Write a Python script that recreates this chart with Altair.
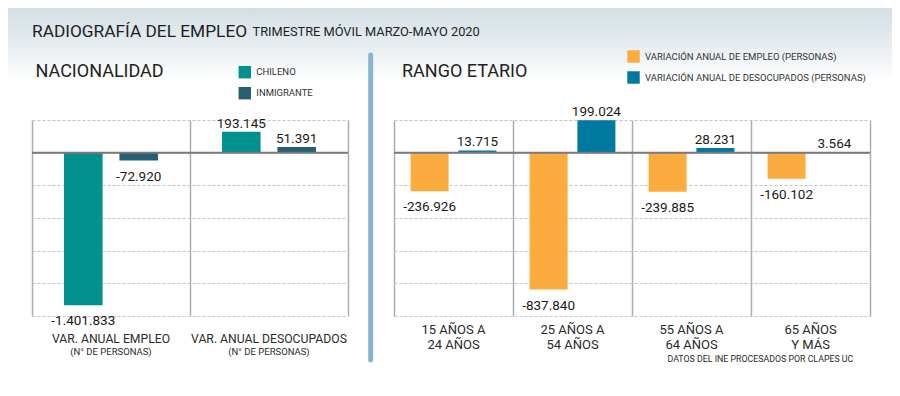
import altair as alt
import pandas as pd

# ---------------- data ----------------
TITLE = "RADIOGRAFÍA DEL EMPLEO"
SUBTITLE = "TRIMESTRE MÓVIL MARZO-MAYO 2020"
LEFT_TITLE = "NACIONALIDAD"
RIGHT_TITLE = "RANGO ETARIO"
SOURCE = "DATOS DEL INE PROCESADOS POR CLAPES UC"

nat_groups = ["VAR. ANUAL EMPLEO", "VAR. ANUAL DESOCUPADOS"]
nat_sub = ["(N° DE PERSONAS)", "(N° DE PERSONAS)"]
nat_series = ["CHILENO", "INMIGRANTE"]
chileno = [-1401833, 193145]
inmigrante = [-72920, 51391]
nat_colors = ["#00918e", "#245f73"]
nat_ticks = [-1500000, -1200000, -900000, -600000, -300000, 0, 300000]

age_groups = ["15-24", "25-54", "55-64", "65+"]
age_line1 = ["15 AÑOS A", "25 AÑOS A", "55 AÑOS A", "65 AÑOS"]
age_line2 = ["24 AÑOS", "54 AÑOS", "64 AÑOS", "Y MÁS"]
age_series = ["VARIACIÓN ANUAL DE EMPLEO (PERSONAS)",
              "VARIACIÓN ANUAL DE DESOCUPADOS (PERSONAS)"]
empleo = [-236926, -837840, -239885, -160102]
desocupados = [13715, 199024, 28231, 3564]
age_colors = ["#fcab3e", "#00789f"]
age_ticks = [-1000000, -800000, -600000, -400000, -200000, 0, 200000]

FONT = "Roboto"


def fmt(v):
    return f"{v:,}".replace(",", ".")


def long_df(groups, series, s1, s2):
    rows = []
    for g, a, b in zip(groups, s1, s2):
        rows.append({"group": g, "series": series[0], "value": a, "label": fmt(a)})
        rows.append({"group": g, "series": series[1], "value": b, "label": fmt(b)})
    return pd.DataFrame(rows)


def one():
    return pd.DataFrame({"k": [0]})


def panel(df, gdf, groups, series, colors, domain, ticks, W, H,
          pin, pout, legend_xy, line1_y, line2_y, line1_size, line2_size):
    xs = alt.X("group:N",
               scale=alt.Scale(domain=groups, paddingInner=0, paddingOuter=0),
               axis=alt.Axis(grid=True, tickBand="extent", gridColor="#adadad",
                             gridWidth=1.5, gridDash=[], labels=False, ticks=False,
                             domain=False, title=None))
    xo = alt.XOffset("series:N",
                     scale=alt.Scale(domain=series, paddingInner=pin, paddingOuter=pout))
    ys = alt.Y("value:Q", scale=alt.Scale(domain=domain, nice=False, zero=True),
               axis=alt.Axis(values=ticks, tickCount=len(ticks) * 2, grid=True,
                             gridDash=[3, 2], gridColor="#c4c4c4",
                             gridWidth=1, labels=False, ticks=False, domain=False,
                             title=None))
    bars = alt.Chart(df).mark_bar().encode(
        x=xs, xOffset=xo, y=ys,
        color=alt.Color("series:N",
                        scale=alt.Scale(domain=series, range=colors),
                        legend=alt.Legend(orient="none", legendX=legend_xy[0],
                                          legendY=legend_xy[1], title=None,
                                          symbolType="square", symbolSize=155,
                                          symbolStrokeWidth=0, labelFont=FONT,
                                          labelFontSize=9.5, labelColor="#333",
                                          rowPadding=8, labelOffset=5, padding=0,
                                          labelLimit=400)),
    )
    pos = alt.Chart(df[df["value"] >= 0]).mark_text(
        font=FONT, fontSize=13.5, color="#1a1a1a", baseline="alphabetic", dy=-4
    ).encode(x=xs, xOffset=xo, y=ys, text="label:N")
    neg = alt.Chart(df[df["value"] < 0]).mark_text(
        font=FONT, fontSize=13.5, color="#1a1a1a", baseline="alphabetic", dy=20
    ).encode(x=xs, xOffset=xo, y=ys, text="label:N")

    zero = alt.Chart(one()).mark_rule(color="#7a7a7a", strokeWidth=2).encode(
        y=alt.datum(0), x=alt.value(0), x2=alt.value(W))
    l1 = alt.Chart(gdf).mark_text(font=FONT, fontSize=line1_size, color="#2a2a2a",
                                  baseline="alphabetic").encode(
        x=xs, y=alt.value(line1_y), text="line1:N")
    l2 = alt.Chart(gdf).mark_text(font=FONT, fontSize=line2_size, color="#2a2a2a",
                                  baseline="alphabetic").encode(
        x=xs, y=alt.value(line2_y), text="line2:N")
    return [bars, zero, pos, neg, l1, l2]


# ---------------- left panel ----------------
LW, LH = 316, 196
df_nat = long_df(nat_groups, nat_series, chileno, inmigrante)
g_nat = pd.DataFrame({"group": nat_groups, "line1": nat_groups, "line2": nat_sub})

bg = alt.Chart(one()).mark_rect(
    color=alt.LinearGradient(gradient="linear",
                             stops=[alt.GradientStop(color="#d3dfe5", offset=0),
                                    alt.GradientStop(color="#e8eef1", offset=0.55),
                                    alt.GradientStop(color="#ffffff", offset=1)],
                             x1=0, x2=0, y1=0, y2=1)
).encode(x=alt.value(-24), x2=alt.value(860), y=alt.value(-112), y2=alt.value(-40))

title = alt.Chart(one()).mark_text(text=TITLE, font=FONT, fontSize=17.3, color="#1e1e1e",
                                   align="left", baseline="alphabetic").encode(
    x=alt.value(0), y=alt.value(-83.5))
subtitle = alt.Chart(one()).mark_text(text=SUBTITLE, font=FONT, fontSize=12.8,
                                      color="#1e1e1e", align="left",
                                      baseline="alphabetic").encode(
    x=alt.value(220.5), y=alt.value(-84))
ltitle = alt.Chart(one()).mark_text(text=LEFT_TITLE, font=FONT, fontSize=18,
                                    color="#222", align="left",
                                    baseline="alphabetic").encode(
    x=alt.value(3.5), y=alt.value(-43.5))
divider = alt.Chart(one()).mark_rule(color="#86b5cf", strokeWidth=5,
                                     strokeCap="round").encode(
    x=alt.value(338.7), y=alt.value(-65), y2=alt.value(240))

left_layers = panel(df_nat, g_nat, nat_groups, nat_series, nat_colors,
                    [-1500000, 300000], nat_ticks, LW, LH, 0.304, 0.578,
                    (206.3, -54.3), 223.3, 235, 12.2, 9.5)
left = alt.layer(bg, title, subtitle, ltitle, divider, *left_layers).properties(
    width=LW, height=LH)

# ---------------- right panel ----------------
RW, RH = 476, 196
df_age = long_df(age_groups, age_series, empleo, desocupados)
g_age = pd.DataFrame({"group": age_groups, "line1": age_line1, "line2": age_line2})

rtitle = alt.Chart(one()).mark_text(text=RIGHT_TITLE, font=FONT, fontSize=18,
                                    color="#222", align="left",
                                    baseline="alphabetic").encode(
    x=alt.value(8), y=alt.value(-43))
source = alt.Chart(one()).mark_text(text=SOURCE, font=FONT, fontSize=8.8,
                                    color="#2a2a2a", align="right",
                                    baseline="alphabetic").encode(
    x=alt.value(459.3), y=alt.value(242.3))

right_layers = panel(df_age, g_age, age_groups, age_series, age_colors,
                     [-1000000, 200000], age_ticks, RW, RH, 0.205, 0.347,
                     (233, -70), 214, 228.7, 13, 13)
right = alt.layer(rtitle, source, *right_layers).properties(width=RW, height=RH)

chart = alt.hconcat(left, right, spacing=46, bounds="flush").resolve_scale(
    color="independent", xOffset="independent"
).resolve_legend(color="independent").properties(padding=0).configure_view(stroke=None)

chart.save("out.html", embed_options={"renderer": "svg", "actions": False})
